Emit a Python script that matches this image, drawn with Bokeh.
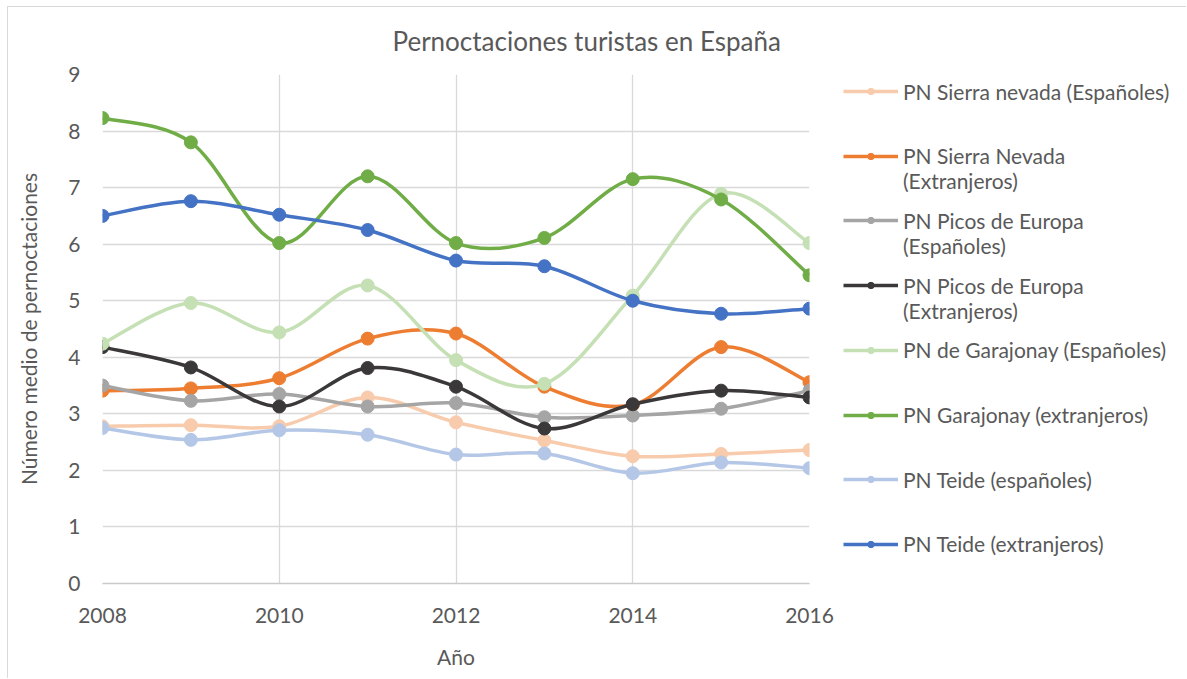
import numpy as np
from bokeh.plotting import figure
from bokeh.layouts import row
from bokeh.models import Range1d, FixedTicker, Legend, LegendItem, Title
from bokeh.embed import file_html
from bokeh.resources import INLINE

# ---------------- data ----------------
years = [2008, 2009, 2010, 2011, 2012, 2013, 2014, 2015, 2016]
sierra_esp = [2.78, 2.80, 2.78, 3.29, 2.85, 2.53, 2.25, 2.29, 2.36]
sierra_ext = [3.41, 3.45, 3.63, 4.33, 4.42, 3.48, 3.16, 4.18, 3.56]
picos_esp = [3.50, 3.23, 3.35, 3.13, 3.19, 2.94, 2.97, 3.09, 3.41]
picos_ext = [4.18, 3.82, 3.13, 3.81, 3.48, 2.74, 3.17, 3.41, 3.29]
garajonay_esp = [4.24, 4.96, 4.44, 5.27, 3.95, 3.53, 5.09, 6.89, 6.02]
garajonay_ext = [8.23, 7.80, 6.02, 7.20, 6.02, 6.11, 7.15, 6.79, 5.45]
teide_esp = [2.75, 2.54, 2.71, 2.63, 2.28, 2.30, 1.95, 2.14, 2.04]
teide_ext = [6.50, 6.76, 6.52, 6.25, 5.71, 5.61, 5.00, 4.77, 4.86]

# legend labels (first line, optional second line)
labels = [
    ("PN Sierra nevada (Españoles)", None),
    ("PN Sierra Nevada", "(Extranjeros)"),
    ("PN Picos de Europa", "(Españoles)"),
    ("PN Picos de Europa", "(Extranjeros)"),
    ("PN de Garajonay (Españoles)", None),
    ("PN Garajonay (extranjeros)", None),
    ("PN Teide (españoles)", None),
    ("PN Teide (extranjeros)", None),
]
series = [sierra_esp, sierra_ext, picos_esp, picos_ext,
          garajonay_esp, garajonay_ext, teide_esp, teide_ext]
colors = ["#F8CBAD", "#ED7D31", "#A5A5A5", "#3A3838",
          "#C5E0B4", "#70AD47", "#B4C7E7", "#4472C4"]
x_ticks = [2008, 2010, 2012, 2014, 2016]
y_ticks = [0, 1, 2, 3, 4, 5, 6, 7, 8, 9]

FONT = "Lato"
TXT = "#595959"

# layout (page pixels)
MARGIN_TOP, MARGIN_LEFT = 7, 8
B_LEFT, B_TOP, FRAME_W, FRAME_H, B_RIGHT = 94, 67, 707, 509, 30
W, H = 1187 - MARGIN_LEFT, 679 - MARGIN_TOP
B_BOTTOM = H - B_TOP - FRAME_H
MAIN_W = B_LEFT + FRAME_W + B_RIGHT
LEG_W = W - MAIN_W


def smooth_segments(xs, ys):
    """Catmull-Rom style Bezier control points (Excel 'smoothed line')."""
    x = np.asarray(xs, float)
    y = np.asarray(ys, float)
    n = len(x)
    xp = np.concatenate([[x[0]], x, [x[-1]]])
    yp = np.concatenate([[y[0]], y, [y[-1]]])
    cx0 = x[:-1] + (xp[2:n + 1] - xp[0:n - 1]) / 6.0
    cy0 = y[:-1] + (yp[2:n + 1] - yp[0:n - 1]) / 6.0
    cx1 = x[1:] - (xp[3:n + 2] - xp[1:n]) / 6.0
    cy1 = y[1:] - (yp[3:n + 2] - yp[1:n]) / 6.0
    return dict(x0=x[:-1], y0=y[:-1], x1=x[1:], y1=y[1:],
                cx0=cx0, cy0=cy0, cx1=cx1, cy1=cy1)


p = figure(width=MAIN_W, height=H, output_backend="svg", toolbar_location=None,
           x_range=Range1d(2008, 2016), y_range=Range1d(0, 9),
           min_border_left=B_LEFT, min_border_right=B_RIGHT,
           min_border_top=B_TOP, min_border_bottom=B_BOTTOM)
p.outline_line_color = None
p.background_fill_color = "white"
p.border_fill_color = "white"

# title
title = Title(text="Pernoctaciones turistas en España", align="left", offset=290,
              vertical_align="middle",
              text_font=FONT, text_font_size="26px", text_font_style="normal",
              text_color=TXT, standoff=33)
p.add_layout(title, "above")

# axes
p.xaxis.ticker = FixedTicker(ticks=x_ticks)
p.yaxis.ticker = FixedTicker(ticks=y_ticks)
for ax in (p.xaxis[0], p.yaxis[0]):
    ax.major_tick_line_color = None
    ax.minor_tick_line_color = None
    ax.major_tick_out = 0
    ax.major_tick_in = 0
    ax.minor_tick_out = 0
    ax.major_label_text_font = FONT
    ax.major_label_text_font_size = "21px"
    ax.major_label_text_color = TXT
    ax.axis_label_text_font = FONT
    ax.axis_label_text_font_size = "21px"
    ax.axis_label_text_font_style = "normal"
    ax.axis_label_text_color = TXT
p.xaxis.axis_label = "Año"
p.yaxis.axis_label = "Número medio de pernoctaciones"
p.xaxis.axis_line_color = "#C9C9C9"
p.xaxis.axis_line_width = 1.3
p.yaxis.axis_line_color = None
p.xaxis.major_label_standoff = 24
p.yaxis.major_label_standoff = 22
p.xaxis.axis_label_standoff = 18
p.yaxis.axis_label_standoff = 24

p.xgrid.ticker = FixedTicker(ticks=x_ticks)
p.ygrid.ticker = FixedTicker(ticks=y_ticks)
p.grid.grid_line_color = "#D9D9D9"
p.grid.grid_line_width = 1.3

for ys, col in zip(series, colors):
    seg = smooth_segments(years, ys)
    p.bezier(line_color=col, line_width=3.5, **seg)
    p.scatter(years, ys, size=13, fill_color=col, line_color=col)

# ---------------- legend panel (separate canvas, frame aligned with the plot's) ----------------
pl = figure(width=LEG_W, height=H, output_backend="svg", toolbar_location=None,
            x_range=Range1d(0, 1), y_range=Range1d(0, 1),
            x_axis_type=None, y_axis_type=None,
            min_border_left=0, min_border_right=0, min_border_top=B_TOP,
            min_border_bottom=B_BOTTOM)
pl.outline_line_color = None
pl.grid.visible = False
pl.background_fill_color = "white"
pl.border_fill_color = "white"

FIRST_CENTER, PITCH = 91 - MARGIN_TOP - B_TOP, 64.7   # relative to the frame top
GLYPH_X = 843 - MARGIN_LEFT - MAIN_W                  # relative to the frame left
for i, ((l1, l2), ys, col) in enumerate(zip(labels, series, colors)):
    # the series, drawn out of this canvas' view, only serve as legend samples
    r_line = pl.line(years, ys, line_color=col, line_width=3.5)
    r_pts = pl.scatter(years, ys, size=10, fill_color=col, line_color=col)
    # two-line entries: blank first line so that the marker sits on the first line
    if l2 is None:
        lab, item_h = l1, 30
    else:
        lab, item_h = "\n" + l1 + "\n" + l2, 84
    item = LegendItem(label=lab, renderers=[r_line, r_pts])
    center_from_top = FIRST_CENTER + i * PITCH
    y_bottom = FRAME_H - center_from_top - item_h / 2.0
    lg = Legend(items=[item], location=(GLYPH_X, y_bottom), margin=0, padding=0,
                spacing=0, label_height=item_h, glyph_height=16, glyph_width=55,
                label_standoff=5, border_line_color=None,
                background_fill_alpha=0,
                label_text_font=FONT, label_text_font_size="21px",
                label_text_line_height=1.3, label_text_color=TXT)
    pl.add_layout(lg)

layout = row(p, pl, spacing=0)
layout.margin = (MARGIN_TOP, 0, 0, MARGIN_LEFT)
layout.styles = {"box-shadow": "-1px -1px 0 0 #D9D9D9"}

open("out.html", "w").write(file_html(layout, INLINE))
